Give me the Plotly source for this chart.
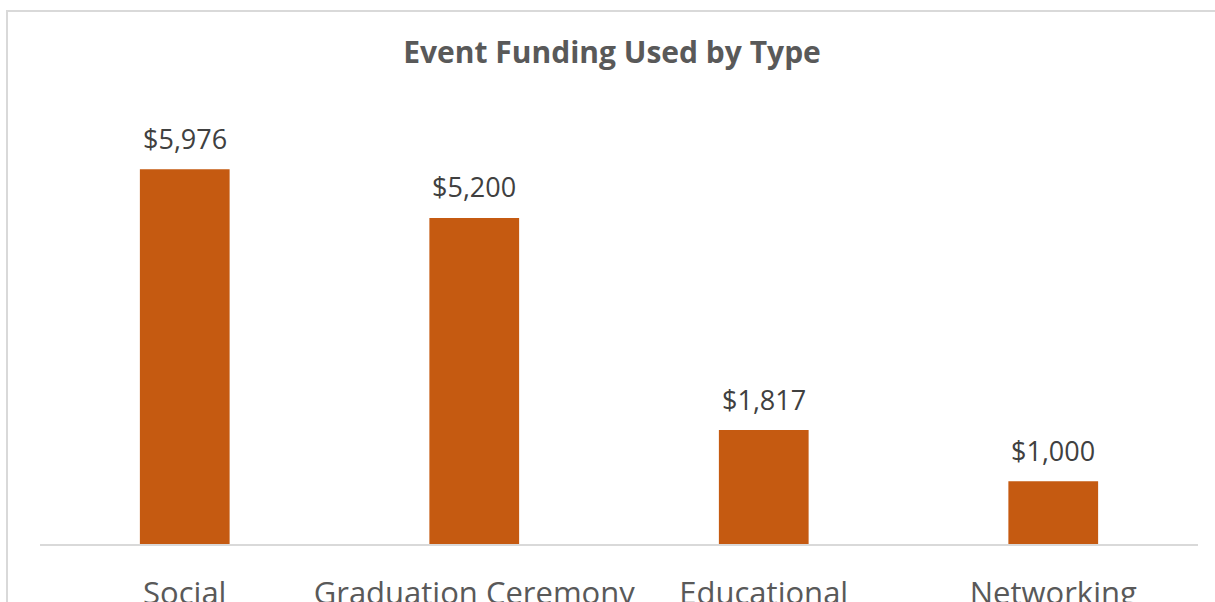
import plotly.graph_objects as go

categories = ["Social", "Graduation Ceremony", "Educational", "Networking"]
funding = [5976, 5200, 1817, 1000]
value_labels = ["$5,976", "$5,200", "$1,817", "$1,000"]

BAR_COLOR = "#C55A11"
FONT = "Open Sans"

W, H = 1215, 602
L, R, T, B = 40, 17, 105, 58
plot_w = W - L - R
plot_h = H - T - B

fig = go.Figure()
fig.add_trace(go.Bar(
    x=categories, y=funding,
    marker=dict(color=BAR_COLOR, line=dict(width=0)),
    width=0.31,
    hoverinfo="skip",
))

for c, v, t in zip(categories, funding, value_labels):
    fig.add_annotation(
        x=c, y=v, text=t, showarrow=False,
        yanchor="middle", yshift=31,
        font=dict(family=FONT, size=27, color="#404040"),
    )

def px_to_paper_x(px):
    return (px - L) / plot_w

def px_to_paper_y(py):
    return (H - B - py) / plot_h

# chart border (partly outside the view)
fig.add_shape(
    type="rect", xref="paper", yref="paper",
    x0=px_to_paper_x(7), x1=px_to_paper_x(1300),
    y0=px_to_paper_y(700), y1=px_to_paper_y(11),
    line=dict(color="#D9D9D9", width=2), layer="below",
)

fig.update_layout(
    width=W, height=H,
    margin=dict(l=L, r=R, t=T, b=B, autoexpand=False),
    paper_bgcolor="white", plot_bgcolor="white",
    showlegend=False,
    title=dict(
        text="<b>Event Funding Used by Type</b>",
        x=612 / W, xanchor="center", xref="container",
        y=1 - 52 / H, yanchor="middle", yref="container",
        font=dict(family=FONT, size=30, color="#595959"),
    ),
    xaxis=dict(
        showline=True, linecolor="#D9D9D9", linewidth=2,
        showgrid=False, zeroline=False, ticks="",
        automargin=False,
        ticklabelstandoff=21,
        tickfont=dict(family=FONT, size=31, color="#595959"),
    ),
    yaxis=dict(
        range=[0, 7000], visible=False, showgrid=False, zeroline=False,
        automargin=False,
    ),
    bargap=0.69,
)

fig.write_html(
    "out.html",
    config={"displayModeBar": False},
    post_script="document.body.style.margin='0';document.body.style.overflow='hidden';",
)
